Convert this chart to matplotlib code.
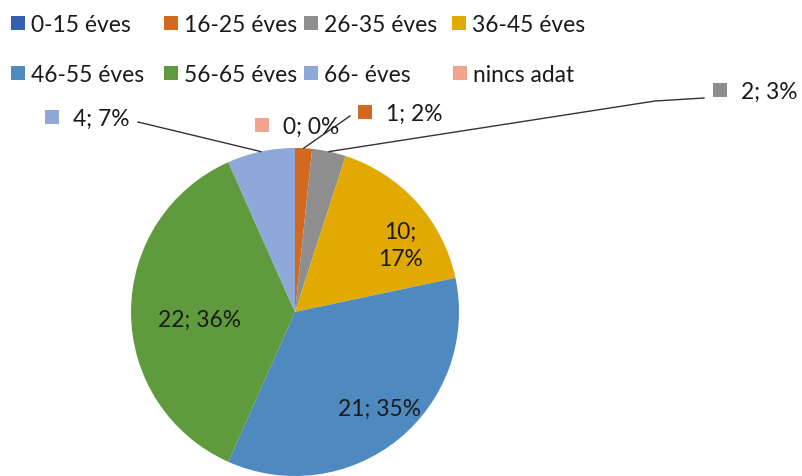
import numpy as np
import matplotlib
matplotlib.use("Agg")
import matplotlib.pyplot as plt
from matplotlib.patches import Rectangle

plt.rcParams['font.family'] = ['Lato', 'DejaVu Sans']

categories = ["0-15 éves", "16-25 éves", "26-35 éves", "36-45 éves",
              "46-55 éves", "56-65 éves", "66- éves", "nincs adat"]
values = [0, 1, 2, 10, 21, 22, 4, 0]
percents = [0, 2, 3, 17, 35, 36, 7, 0]
colors = ["#3560B0", "#D2691E", "#8E8E8E", "#E2AA00",
          "#4E89C0", "#5F9B3D", "#8EA8D9", "#F2A48C"]

W, H = 803, 477
fig = plt.figure(figsize=(W / 100, H / 100), dpi=100)
ax = fig.add_axes([0, 0, 1, 1])

def Y(y):
    return H - y

cx, cy, R = 295, 313, 164
wedges, _ = ax.pie(values, colors=colors, startangle=90, counterclock=False,
                   center=(cx, Y(cy)), radius=R, frame=True,
                   wedgeprops=dict(linewidth=0))
ax.set_xlim(0, W)
ax.set_ylim(0, H)
ax.set_aspect('equal')
ax.axis('off')

FS = 16.4
TXT = "#1a1a1a"
sq = 14

# legend
legend_pos = [(11, 24), (164, 24), (304, 24), (452, 24),
              (11, 74), (164, 74), (304, 74), (453, 74)]
for (lx, ly), c, lab in zip(legend_pos, colors, categories):
    ax.add_patch(Rectangle((lx, Y(ly) - sq / 2), sq, sq, color=c, lw=0))
    ax.text(lx + sq + 6, Y(ly) - 1, lab, fontsize=FS, color=TXT, va='center', ha='left')

def label(i):
    return f"{values[i]}; {percents[i]}%"

def edge_point(i, r=R):
    tot = sum(values)
    start = sum(values[:i]) / tot * 360
    mid = start + values[i] / tot * 360 / 2
    a = np.deg2rad(mid)
    return cx + r * np.sin(a), Y(cy - r * np.cos(a))

# outside labels: (index, marker x, text y)
outside = [(6, 45, 118), (7, 255, 126), (1, 358, 113), (2, 713, 91)]
for i, mx, ty in outside:
    ax.add_patch(Rectangle((mx, Y(ty) - sq / 2), sq, sq, color=colors[i], lw=0))
    ax.text(mx + sq + 14, Y(ty) - 1, label(i), fontsize=FS, color=TXT, va='center', ha='left')

lc = "#333333"
px, py = edge_point(6)
ax.plot([138, px], [Y(123), py], color=lc, lw=1)
px, py = edge_point(1)
ax.plot([350, px], [Y(117), py], color=lc, lw=1)
px, py = edge_point(2)
ax.plot([px, 655, 704], [py, Y(102), Y(99)], color=lc, lw=1)

# inside labels
ax.text(400, Y(246), f"{values[3]};\n{percents[3]}%", fontsize=FS, color=TXT,
        ha='center', va='center', linespacing=1.4)
ax.text(380, Y(409), label(4), fontsize=FS, color=TXT, ha='center', va='center')
ax.text(200, Y(320), label(5), fontsize=FS, color=TXT, ha='center', va='center')

fig.savefig("out.png", dpi=100)
